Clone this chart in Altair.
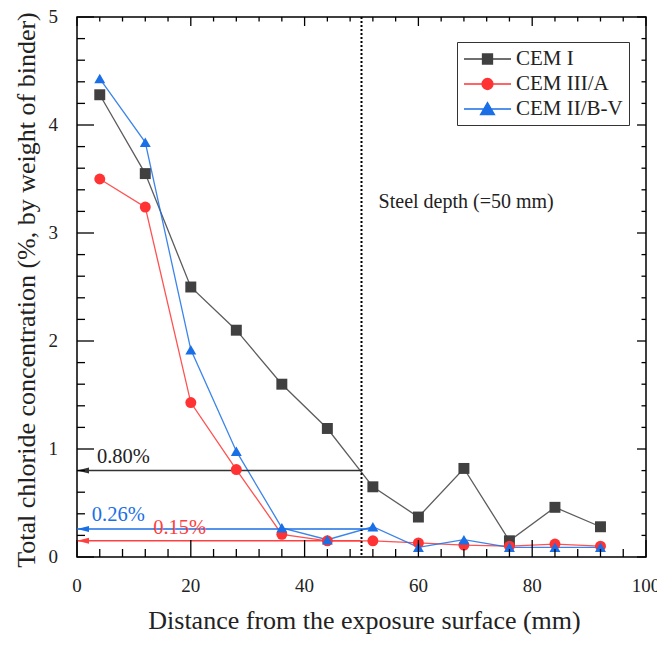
import altair as alt
import pandas as pd

# ---------------- data ----------------
depth = [4, 12, 20, 28, 36, 44, 52, 60, 68, 76, 84, 92]
cem_i = [4.28, 3.55, 2.50, 2.10, 1.60, 1.19, 0.65, 0.37, 0.82, 0.15, 0.46, 0.28]
cem_iii_a = [3.50, 3.24, 1.43, 0.81, 0.21, 0.15, 0.15, 0.13, 0.11, 0.10, 0.12, 0.10]
cem_ii_bv = [4.43, 3.84, 1.92, 0.98, 0.27, 0.16, 0.28, 0.09, 0.16, 0.09, 0.09, 0.09]

series_names = ["CEM I", "CEM III/A", "CEM II/B-V"]
series_colors = ["#404040", "#ff3333", "#1a6fe6"]
series_shapes = ["square", "circle", "triangle-up"]
legend_shapes = [
    "M-1,0H3.7M0.85,-0.5H1.85V0.5H0.85Z",
    "M-1,0H3.7M1.9,0A0.55,0.55,0,1,1,0.8,0A0.55,0.55,0,1,1,1.9,0Z",
    "M-1,0H3.7M1.35,-0.65L2.05,0.55H0.65Z",
]

steel_depth = [50]
thresh_values = [0.80, 0.26, 0.15]
thresh_start = [0, 0, 0]
thresh_end = [50, 52, 50]
thresh_colors = ["#333333", "#1a6fe6", "#ff4040"]

label_texts = ["0.80%", "0.26%", "0.15%", "Steel depth (=50 mm)"]
label_x = [3.5, 2.6, 13.4, 53]
label_y = [0.93, 0.39, 0.27, 3.29]
label_colors = ["#222222", "#1a6fe6", "#ff4040", "#222222"]
label_sizes = [20.5, 20.5, 20.5, 20]

x_title = "Distance from the exposure surface (mm)"
y_title = "Total chloride concentration (%, by weight of binder)"

x_major = [0, 20, 40, 60, 80, 100]
x_minor = [4, 8, 12, 16, 24, 28, 32, 36, 44, 48, 52, 56, 64, 68, 72, 76, 84, 88, 92, 96]
y_major = [0, 1, 2, 3, 4, 5]
y_minor = [0.2, 0.4, 0.6, 0.8, 1.2, 1.4, 1.6, 1.8, 2.2, 2.4, 2.6, 2.8,
           3.2, 3.4, 3.6, 3.8, 4.2, 4.4, 4.6, 4.8]

W, H = 569, 540
FONT = "Liberation Serif"
INK = "#222222"
X0, X1, Y0, Y1 = 0, 100, 0, 5

# ---------------- tables ----------------
rows = []
for name, vals in zip(series_names, [cem_i, cem_iii_a, cem_ii_bv]):
    for d, v in zip(depth, vals):
        rows.append({"x": d, "y": v, "series": name})
df = pd.DataFrame(rows)

df_arrow = pd.DataFrame({"x0": thresh_start, "x1": thresh_end, "y": thresh_values, "c": thresh_colors})
df_text = pd.DataFrame({"x": label_x, "y": label_y, "t": label_texts, "c": label_colors, "s": label_sizes})
df_steel = pd.DataFrame({"x": steel_depth})

tick_rows = []
for v in x_major:
    tick_rows += [{"a": v, "b": Y0, "k": "bM"}, {"a": v, "b": Y1, "k": "tM"}]
for v in x_minor:
    tick_rows += [{"a": v, "b": Y0, "k": "bm"}, {"a": v, "b": Y1, "k": "tm"}]
for v in y_major:
    tick_rows += [{"a": X0, "b": v, "k": "lM"}, {"a": X1, "b": v, "k": "rM"}]
for v in y_minor:
    tick_rows += [{"a": X0, "b": v, "k": "lm"}, {"a": X1, "b": v, "k": "rm"}]
df_ticks = pd.DataFrame(tick_rows)

# tick kind -> (symbol path pointing into the plot, length in px)
tick_styles = {
    "bM": ("M0,0V-1", 17), "bm": ("M0,0V-1", 8),
    "tM": ("M0,0V1", 9), "tm": ("M0,0V1", 4.5),
    "lM": ("M0,0H1", 17), "lm": ("M0,0H1", 8),
    "rM": ("M0,0H-1", 9), "rm": ("M0,0H-1", 4.5),
}

xs = alt.Scale(domain=[X0, X1], nice=False, zero=False)
ys = alt.Scale(domain=[Y0, Y1], nice=False, zero=False)
cscale = alt.Scale(domain=series_names, range=series_colors)

LEG = dict(
    title=None, orient="none", legendX=380, legendY=25,
    strokeColor="#333333", fillColor="white", padding=6,
    labelFont=FONT, labelFontSize=21, labelColor=INK,
    labelOffset=31, rowPadding=4, symbolSize=400,
    symbolOpacity=1, symbolStrokeWidth=1.3,
)

legend_layer = alt.Chart(df).transform_filter("datum.x < 0").mark_point(
    strokeWidth=1.3, opacity=1
).encode(
    x=alt.X("x:Q", scale=xs, axis=None),
    y=alt.Y("y:Q", scale=ys, axis=None),
    fill=alt.Fill("series:N", scale=alt.Scale(domain=series_names, range=series_colors),
                  legend=alt.Legend(**LEG)),
    stroke=alt.Stroke("series:N", scale=alt.Scale(domain=series_names, range=series_colors),
                      legend=alt.Legend(**LEG)),
    shape=alt.Shape("series:N", scale=alt.Scale(domain=series_names, range=legend_shapes),
                    legend=alt.Legend(**LEG)),
)

lines = alt.Chart(df).mark_line(strokeWidth=1.3, opacity=0.85).encode(
    x=alt.X("x:Q", scale=xs, axis=None),
    y=alt.Y("y:Q", scale=ys, axis=None),
    color=alt.Color("series:N", scale=cscale, legend=None),
    detail="series:N",
)

marker_layers = []
for name, shp in zip(series_names, series_shapes):
    marker_layers.append(
        alt.Chart(df).transform_filter(alt.datum.series == name)
        .mark_point(filled=True, size=120, opacity=1, shape=shp)
        .encode(
            x=alt.X("x:Q", scale=xs, axis=None),
            y=alt.Y("y:Q", scale=ys, axis=None),
            color=alt.Color("series:N", scale=cscale, legend=None),
        )
    )

steel = alt.Chart(df_steel).mark_rule(color="black", strokeWidth=2, strokeDash=[2, 2]).encode(
    x=alt.X("x:Q", scale=xs, axis=None)
)

arrows = alt.Chart(df_arrow).mark_rule(strokeWidth=1.5).encode(
    x=alt.X("x0:Q", scale=xs, axis=None), x2="x1:Q",
    y=alt.Y("y:Q", scale=ys, axis=None),
    color=alt.Color("c:N", scale=None),
)
heads = alt.Chart(df_arrow).mark_point(
    shape="M-1,0L1,-0.5L1,0.5Z", filled=True, size=144, opacity=1, xOffset=6
).encode(
    x=alt.X("x0:Q", scale=xs, axis=None),
    y=alt.Y("y:Q", scale=ys, axis=None),
    color=alt.Color("c:N", scale=None),
)

tick_layers = []
for kind, (path, length) in tick_styles.items():
    tick_layers.append(
        alt.Chart(df_ticks).transform_filter(alt.datum.k == kind)
        .mark_point(shape=path, size=(2 * length) ** 2, filled=False, opacity=1,
                    color="black", strokeWidth=1.3)
        .encode(
            x=alt.X("a:Q", scale=xs, axis=None),
            y=alt.Y("b:Q", scale=ys, axis=None),
        )
    )

texts = alt.Chart(df_text).mark_text(align="left", baseline="middle", font=FONT).encode(
    x=alt.X("x:Q", scale=xs, axis=None),
    y=alt.Y("y:Q", scale=ys, axis=None),
    text="t:N",
    color=alt.Color("c:N", scale=None),
    size=alt.Size("s:Q", scale=None),
)

# axis labels and titles as text marks placed through the scales
x_labels = alt.Chart(pd.DataFrame({"v": x_major})).mark_text(
    font=FONT, fontSize=19, color=INK, baseline="middle", align="center"
).encode(x=alt.X("v:Q", scale=xs, axis=None), y=alt.value(H + 29), text="v:Q")

y_labels = alt.Chart(pd.DataFrame({"w": y_major})).mark_text(
    font=FONT, fontSize=19, color=INK, baseline="middle", align="right"
).encode(y=alt.Y("w:Q", scale=ys, axis=None), x=alt.value(-19), text="w:Q")

x_title_mark = alt.Chart(pd.DataFrame({"t": [x_title]})).mark_text(
    font=FONT, fontSize=26, color=INK, baseline="alphabetic", align="center"
).encode(x=alt.value(W / 2 + 3), y=alt.value(H + 72), text="t:N")

y_title_mark = alt.Chart(pd.DataFrame({"t": [y_title]})).mark_text(
    font=FONT, fontSize=26, color=INK, baseline="alphabetic", align="center", angle=270
).encode(x=alt.value(-42), y=alt.value(273), text="t:N")

chart = alt.layer(
    legend_layer, lines, steel, arrows, heads, *marker_layers, *tick_layers, texts,
    x_labels, y_labels, x_title_mark, y_title_mark
).properties(
    width=W, height=H,
    autosize=alt.AutoSizeParams(type="none"),
    padding={"left": 69, "top": 9, "right": 11, "bottom": 78},
).configure_view(
    stroke="black", strokeWidth=1.5
)

chart.save("out.html", embed_options={"renderer": "svg", "actions": False})
